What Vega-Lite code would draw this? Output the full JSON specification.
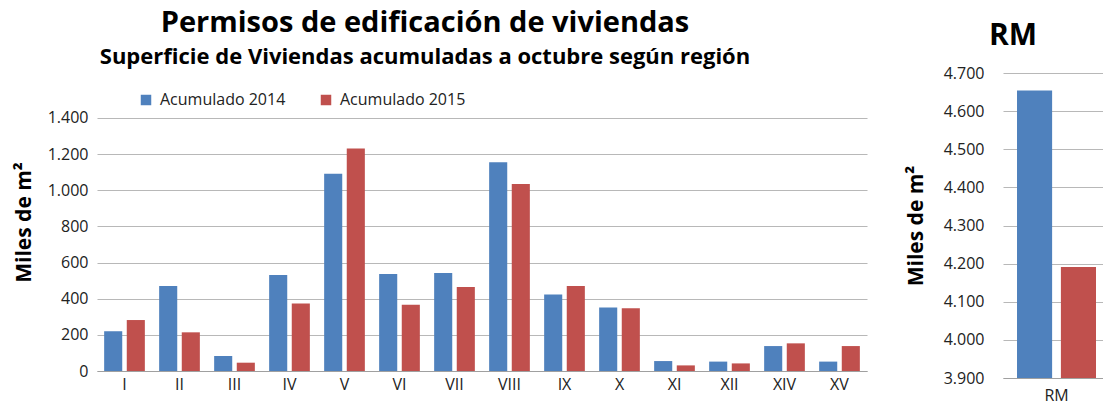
{
  "$schema": "https://vega.github.io/schema/vega-lite/v6.json",
  "padding": {"left": 13, "top": 9, "right": 0, "bottom": 6},
  "background": "white",
  "config": {
    "view": {"stroke": null},
    "font": "Open Sans",
    "concat": {"spacing": 38}
  },
  "data": {
    "values": [
      {"region": "I", "serie": "Acumulado 2014", "value": 220},
      {"region": "I", "serie": "Acumulado 2015", "value": 282},
      {"region": "II", "serie": "Acumulado 2014", "value": 470},
      {"region": "II", "serie": "Acumulado 2015", "value": 214},
      {"region": "III", "serie": "Acumulado 2014", "value": 83},
      {"region": "III", "serie": "Acumulado 2015", "value": 46},
      {"region": "IV", "serie": "Acumulado 2014", "value": 531},
      {"region": "IV", "serie": "Acumulado 2015", "value": 374},
      {"region": "V", "serie": "Acumulado 2014", "value": 1092},
      {"region": "V", "serie": "Acumulado 2015", "value": 1231},
      {"region": "VI", "serie": "Acumulado 2014", "value": 537},
      {"region": "VI", "serie": "Acumulado 2015", "value": 367},
      {"region": "VII", "serie": "Acumulado 2014", "value": 542},
      {"region": "VII", "serie": "Acumulado 2015", "value": 465},
      {"region": "VIII", "serie": "Acumulado 2014", "value": 1155},
      {"region": "VIII", "serie": "Acumulado 2015", "value": 1035},
      {"region": "IX", "serie": "Acumulado 2014", "value": 424},
      {"region": "IX", "serie": "Acumulado 2015", "value": 470},
      {"region": "X", "serie": "Acumulado 2014", "value": 352},
      {"region": "X", "serie": "Acumulado 2015", "value": 347},
      {"region": "XI", "serie": "Acumulado 2014", "value": 55},
      {"region": "XI", "serie": "Acumulado 2015", "value": 31},
      {"region": "XII", "serie": "Acumulado 2014", "value": 52},
      {"region": "XII", "serie": "Acumulado 2015", "value": 42},
      {"region": "XIV", "serie": "Acumulado 2014", "value": 138},
      {"region": "XIV", "serie": "Acumulado 2015", "value": 153},
      {"region": "XV", "serie": "Acumulado 2014", "value": 52},
      {"region": "XV", "serie": "Acumulado 2015", "value": 138},
      {"region": "RM", "serie": "Acumulado 2014", "value": 4654},
      {"region": "RM", "serie": "Acumulado 2015", "value": 4191}
    ]
  },
  "hconcat": [
    {
      "width": 770,
      "height": 298,
      "title": {
        "text": "Permisos de edificación de viviendas",
        "subtitle": "Superficie de Viviendas acumuladas a octubre según región",
        "fontSize": 29,
        "fontWeight": "bold",
        "color": "#000000",
        "subtitleFontSize": 22,
        "subtitleFontWeight": "bold",
        "subtitleColor": "#000000",
        "subtitlePadding": 9,
        "anchor": "middle",
        "frame": "bounds",
        "dx": -15,
        "offset": 5
      },
      "transform": [{"filter": "datum.region !== 'RM'"}],
      "mark": {"type": "bar"},
      "encoding": {
        "x": {
          "field": "region",
          "type": "nominal",
          "sort": ["I", "II", "III", "IV", "V", "VI", "VII", "VIII", "IX", "X", "XI", "XII", "XIV", "XV"],
          "scale": {"paddingInner": 0.26, "paddingOuter": 0.13},
          "axis": {
            "title": null,
            "labelAngle": 0,
            "labelFontSize": 16,
            "labelColor": "#222222",
            "labelPadding": 5,
            "ticks": false,
            "domainColor": "#a0a0a0",
            "domainWidth": 1.2,
            "grid": false
          }
        },
        "xOffset": {
          "field": "serie",
          "type": "nominal",
          "scale": {"paddingInner": 0.2}
        },
        "y": {
          "field": "value",
          "type": "quantitative",
          "scale": {"domain": [0, 1649], "nice": false},
          "axis": {
            "title": "Miles de m²",
            "titleFontSize": 21,
            "titleFontWeight": "bold",
            "titleColor": "#000000",
            "titlePadding": 10,
            "values": [0, 200, 400, 600, 800, 1000, 1200, 1400],
            "labelExpr": "replace(format(datum.value, ','), ',', '.')",
            "labelFontSize": 16,
            "labelColor": "#222222",
            "labelPadding": 9,
            "minExtent": 53,
            "maxExtent": 53,
            "ticks": false,
            "domain": false,
            "gridColor": "#b8b8b8",
            "gridWidth": 1.2
          }
        },
        "color": {
          "field": "serie",
          "type": "nominal",
          "scale": {"range": ["#4F81BD", "#C0504D"]},
          "legend": {
            "title": null,
            "orient": "none",
            "direction": "horizontal",
            "legendX": 41,
            "legendY": 19,
            "symbolType": "square",
            "symbolSize": 110,
            "symbolStrokeWidth": 0,
            "labelFontSize": 16,
            "labelColor": "#222222",
            "columnPadding": 32,
            "labelOffset": 6
          }
        }
      }
    },
    {
      "width": 100,
      "height": 305,
      "title": {
        "text": "RM",
        "fontSize": 30,
        "fontWeight": "bold",
        "color": "#000000",
        "anchor": "middle",
        "frame": "bounds",
        "dx": 9,
        "offset": 14
      },
      "transform": [{"filter": "datum.region === 'RM'"}],
      "mark": {"type": "bar", "clip": true},
      "encoding": {
        "x": {
          "field": "region",
          "type": "nominal",
          "scale": {"paddingInner": 0, "paddingOuter": 0.133, "align": 0.667},
          "axis": {
            "title": null,
            "labelAngle": 0,
            "labelFontSize": 16,
            "labelColor": "#222222",
            "labelPadding": 9,
            "ticks": false,
            "domainColor": "#a0a0a0",
            "domainWidth": 1.2,
            "grid": false
          }
        },
        "xOffset": {
          "field": "serie",
          "type": "nominal",
          "scale": {"paddingInner": 0.2}
        },
        "y": {
          "field": "value",
          "type": "quantitative",
          "scale": {"domain": [3900, 4700], "nice": false, "zero": false},
          "axis": {
            "title": "Miles de m²",
            "titleFontSize": 21,
            "titleFontWeight": "bold",
            "titleColor": "#000000",
            "titlePadding": 14,
            "values": [3900, 4000, 4100, 4200, 4300, 4400, 4500, 4600, 4700],
            "labelExpr": "replace(format(datum.value, ','), ',', '.')",
            "labelFontSize": 16,
            "labelColor": "#222222",
            "labelPadding": 19,
            "minExtent": 63,
            "maxExtent": 63,
            "ticks": false,
            "domain": false,
            "gridColor": "#b8b8b8",
            "gridWidth": 1.2
          }
        },
        "color": {
          "field": "serie",
          "type": "nominal",
          "legend": null
        }
      }
    }
  ],
  "resolve": {"scale": {"y": "independent", "x": "independent", "xOffset": "independent"}}
}
